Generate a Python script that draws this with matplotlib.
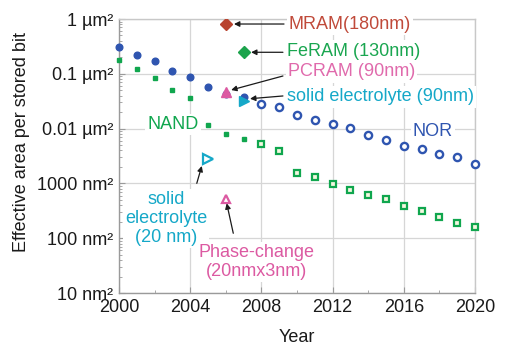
import matplotlib
matplotlib.use("Agg")
import matplotlib.pyplot as plt
import numpy as np

plt.rcParams['font.family'] = ['Liberation Sans', 'DejaVu Sans']

# ---- data (effective area per stored bit, in nm^2) ----
nor_years_filled = [2000, 2001, 2002, 2003, 2004, 2005, 2006, 2007]
nor_area_filled = [310000, 220000, 169000, 112000, 87500, 56700, 43000, 37000]
nor_years_proj = [2008, 2009, 2010, 2011, 2012, 2013, 2014, 2015, 2016, 2017, 2018, 2019, 2020]
nor_area_proj = [28100, 24500, 17700, 14200, 12000, 10100, 7740, 6110, 4750, 4300, 3440, 2990, 2290]

nand_years_filled = [2000, 2001, 2002, 2003, 2004, 2005, 2006, 2007]
nand_area_filled = [178800, 122000, 85000, 50600, 35700, 11500, 7970, 6460]
nand_years_proj = [2008, 2009, 2010, 2011, 2012, 2013, 2014, 2015, 2016, 2017, 2018, 2019, 2020]
nand_area_proj = [5170, 3950, 1580, 1300, 988, 768, 607, 519, 392, 310, 247, 192, 162]

mram = (2006, 811000)
feram = (2007, 247000)
pcram = (2006, 47100)
se90 = (2007, 31900)
se20 = (2005, 2790)
pc20 = (2006, 526)

ytick_vals = [1e6, 1e5, 1e4, 1e3, 1e2, 1e1]
ytick_labels = ["1 µm²", "0.1 µm²", "0.01 µm²", "1000 nm²", "100 nm²", "10 nm²"]
xtick_vals = [2000, 2004, 2008, 2012, 2016, 2020]

# ---- colours ----
c_nor = '#2f55b0'
c_nand = '#10a64e'
c_mram = '#b8432f'
c_feram = '#1ca34c'
c_pc = '#dc5aa2'
c_se = '#15a8c8'

fig = plt.figure(figsize=(5.07, 3.45), dpi=100)
ax = fig.add_axes([119/507, 1-293/345, 356/507, 274/345])
ax.set_yscale('log')
ax.set_xlim(2000, 2020)
ax.set_ylim(10, 1e6)

# grid and frame
ax.set_xticks(xtick_vals)
ax.set_xticks(np.arange(2000, 2021, 2), minor=True)
ax.set_yticks(ytick_vals)
ax.set_yticklabels(ytick_labels)
ax.grid(True, which='major', color='#d6d6d6', lw=0.9, zorder=0)
ax.set_axisbelow(True)
for s in ax.spines.values():
    s.set_color('#c8c8c8')
    s.set_linewidth(1.0)
ax.spines['bottom'].set_color('#9a9a9a')
ax.spines['left'].set_color('#9a9a9a')
ax.tick_params(which='both', direction='in', color='#9a9a9a', labelsize=13,
               labelcolor='#1a1a1a')
ax.tick_params(which='major', length=4)
ax.tick_params(which='minor', length=2.5)
ax.tick_params(axis='x', pad=4)
ax.tick_params(axis='y', pad=4)
ax.xaxis.set_minor_formatter(plt.NullFormatter())
ax.yaxis.set_minor_formatter(plt.NullFormatter())

# NOR
ax.plot(nor_years_filled, nor_area_filled, 'o', color=c_nor, ms=4.8, mec=c_nor,
        ls='none', clip_on=False, zorder=5)
ax.plot(nor_years_proj, nor_area_proj, 'o', mfc='white', mec=c_nor, ms=5.2, mew=1.7,
        ls='none', clip_on=False, zorder=5)
# NAND
ax.plot(nand_years_filled, nand_area_filled, 's', color=c_nand, ms=3.4, mec=c_nand,
        ls='none', clip_on=False, zorder=5)
ax.plot(nand_years_proj, nand_area_proj, 's', mfc='#f4f8e0', mec=c_nand, ms=4.4, mew=1.6,
        ls='none', clip_on=False, zorder=5)

# emerging memories
ax.plot(*mram, 'D', color=c_mram, ms=5.8, zorder=6)
ax.plot(*feram, 'D', color=c_feram, ms=5.8, zorder=6)
ax.plot(*pcram, '^', color=c_pc, ms=7.5, zorder=6)
ax.plot(*se90, '>', color=c_se, ms=7.5, zorder=6)
ax.plot(*se20, '>', mfc='white', mec=c_se, ms=6.5, mew=1.6, zorder=6)
ax.plot(*pc20, '^', mfc='white', mec=c_pc, ms=6.0, mew=1.6, zorder=6)

# annotation text
box = dict(facecolor='white', edgecolor='none', pad=1.5)
fs = 13
ax.text(2009.55, 8.1e5, "MRAM(180nm)", color='#c04a3a', fontsize=fs, ha='left', va='center', bbox=box, zorder=3)
ax.text(2009.44, 2.6e5, "FeRAM (130nm)", color='#1aa650', fontsize=fs, ha='left', va='center', bbox=box, zorder=3)
ax.text(2009.49, 1.08e5, "PCRAM (90nm)", color='#e06aac', fontsize=fs, ha='left', va='center', bbox=box, zorder=3)
ax.text(2009.44, 3.78e4, "solid electrolyte (90nm)", color=c_se, fontsize=fs, ha='left', va='center', bbox=box, zorder=3)
ax.text(2017.64, 8670, "NOR", color=c_nor, fontsize=fs, ha='center', va='center', bbox=box, zorder=3)
ax.text(2003.03, 1.2e4, "NAND", color=c_nand, fontsize=fs, ha='center', va='center', bbox=box, zorder=3)
ax.text(2002.64, 230, "solid\nelectrolyte\n(20 nm)", color=c_se, fontsize=fs, ha='center', va='center',
        linespacing=1.15, bbox=box, zorder=3)
ax.text(2007.7, 37, "Phase-change\n(20nmx3nm)", color=c_pc, fontsize=fs, ha='center', va='center',
        linespacing=1.15, bbox=box, zorder=3)

# arrows
arrow = dict(arrowstyle='-|>', color='#1a1a1a', lw=0.9, mutation_scale=8, shrinkA=0, shrinkB=0)
ax.annotate('', xy=(2006.46, 8.1e5), xytext=(2009.27, 8.1e5), arrowprops=arrow, zorder=4)
ax.annotate('', xy=(2007.42, 2.47e5), xytext=(2009.21, 2.47e5), arrowprops=arrow, zorder=4)
ax.annotate('', xy=(2006.3, 5.06e4), xytext=(2009.21, 9.12e4), arrowprops=arrow, zorder=4)
ax.annotate('', xy=(2007.36, 3.51e4), xytext=(2009.21, 3.94e4), arrowprops=arrow, zorder=4)
ax.annotate('', xy=(2004.65, 2080), xytext=(2004.37, 1004), arrowprops=arrow, zorder=4)
ax.annotate('', xy=(2006.05, 434), xytext=(2006.42, 123), arrowprops=arrow, zorder=4)

# axis labels
fig.text(22/507, 1-142/345, "Effective area per stored bit", rotation=90,
         ha='center', va='center', fontsize=13, color='#1a1a1a')
fig.text(297/507, 1-338/345, "Year", ha='center', va='center', fontsize=13, color='#1a1a1a')

fig.savefig("out.png", dpi=100)
